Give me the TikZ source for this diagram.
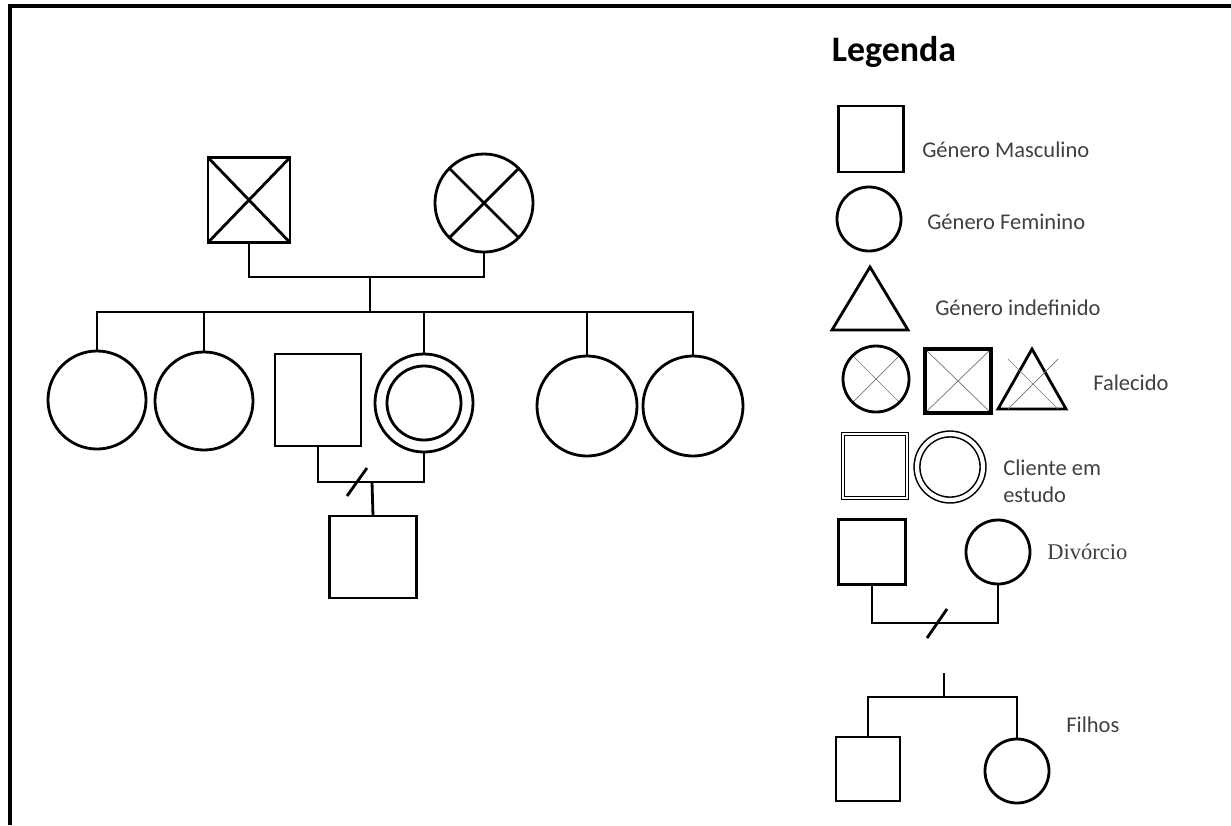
\documentclass[tikz,border=0pt]{standalone}
\usepackage{fontspec}
\setmainfont{Carlito}
\newfontfamily\divfont{Liberation Serif}
\usetikzlibrary{positioning}

\tikzset{
  line/.style={line width=2pt},
  male/.style={draw, line width=2pt, rectangle, inner sep=0pt, outer sep=0pt},
  female/.style={draw, line width=2pt, circle, inner sep=0pt, outer sep=0pt},
  dead/.style={path picture={
    \draw[line width=2pt] (path picture bounding box.north west) -- (path picture bounding box.south east)
      (path picture bounding box.north east) -- (path picture bounding box.south west);}},
  deadthin/.style={path picture={
    \draw[line width=0.5pt, black!55] (path picture bounding box.north west) -- (path picture bounding box.south east)
      (path picture bounding box.north east) -- (path picture bounding box.south west);}},
  client/.style={path picture={
    \draw[line width=2pt] (path picture bounding box.center) circle (0.925cm);}},
  legtext/.style={anchor=west, inner sep=0pt, font=\fontsize{16}{19}\selectfont, text=black!75},
}

\begin{document}
\begin{tikzpicture}[x=0.025cm, y=-0.025cm]
  \useasboundingbox (0,0) rectangle (1231,825);

  % frame
  \draw[line width=2.4pt] (10,825) -- (10,6) -- (1231,6);

  % grandparents
  \node[male, dead, minimum width=2.05cm, minimum height=2.125cm] (gpa) at (249,200) {};
  \node[female, dead, minimum size=2.45cm] (gma) at (484,203) {};
  \coordinate (pm) at (370,277);
  \coordinate (sib) at (370,312);
  \draw[line] (gpa.south) |- (pm) -| (gma.south);
  \draw[line] (pm) -- (sib);

  % siblings
  \node[female, minimum size=2.45cm] (d1) at (97,400) {};
  \node[female, minimum size=2.45cm] (d2) at (204,401) {};
  \node[male, minimum width=2.15cm, minimum height=2.3cm] (hus) at (318,400) {};
  \node[female, client, minimum size=2.45cm] (cli) at (424,403) {};
  \node[female, minimum size=2.5cm] (d5) at (587,406) {};
  \node[female, minimum size=2.5cm] (d6) at (693,406) {};
  \foreach \n in {d1,d2,cli,d5,d6}
    \draw[line] (\n.north) |- (sib);

  % divorced couple and son
  \coordinate (mar) at (372,482);
  \node[male, minimum width=2.175cm, minimum height=2.05cm] (son) at (373,557) {};
  \draw[line] (hus.south) |- (mar) -| (cli.south);
  \draw[line] (mar) -- (son.north);
  \draw[line] ([shift={(-25,14)}]mar) -- ([shift={(-5,-14)}]mar);

  % legend
  \node[font=\fontsize{25.5}{30}\selectfont\bfseries] (title) at (894,52) {Legenda};

  \node[male, minimum width=1.625cm, minimum height=1.65cm] (lm) at (871,139) {};
  \node[legtext] (tm) at (922,150) {Género Masculino};

  \node[female, minimum size=1.6cm] (lf) at (869,219) {};
  \node[legtext] (tf) at (927,222) {Género Feminino};

  \draw[line, line join=miter] (870,267) -- (908,330) -- (832,330) -- cycle;
  \node[legtext] (tu) at (935,308) {Género indefinido};

  \node[female, deadthin, minimum size=1.65cm] (lfd) at (876,379) {};
  \node[male, deadthin, line width=2.4pt, minimum width=1.65cm, minimum height=1.6cm] (lmd) at (958,381) {};
  \draw[line, line join=miter] (1032,349) -- (1066,409) -- (998,409) -- cycle;
  \draw[line width=0.5pt, black!55] (1008,359) -- (1058,409) (1058,359) -- (1008,409);
  \node[legtext] (td) at (1093,383) {Falecido};

  \node[male, line width=1.1pt, double, double distance=1.2pt, minimum size=1.6cm] (lmc) at (875,466) {};
  \node[female, line width=1.1pt, double, double distance=3pt, minimum size=1.65cm] (lfc) at (950,467) {};
  \node[legtext, align=left] (tc) at (1003,481) {Cliente em\\estudo};

  \node[male, minimum width=1.675cm, minimum height=1.625cm] (ldm) at (872,552) {};
  \node[female, minimum size=1.6cm] (ldf) at (998,552) {};
  \coordinate (ldv) at (935,623);
  \draw[line] (ldm.south) |- (ldv) -| (ldf.south);
  \draw[line] ([shift={(-8,15)}]ldv) -- ([shift={(12,-14)}]ldv);
  \node[anchor=west, inner sep=0pt, font=\divfont\fontsize{16}{19}\selectfont, text=black!75] (tdv) at (1047,552) {Divórcio};

  \coordinate (ltop) at (944,673);
  \coordinate (lfc2) at (944,697);
  \node[male, minimum size=1.6cm] (lsm) at (868,769) {};
  \node[female, minimum size=1.6cm] (lsf) at (1017,771) {};
  \draw[line] (ltop) -- (lfc2);
  \draw[line] (lsm.north) |- (lfc2) -| (lsf.north);
  \node[legtext] (tfi) at (1066,725) {Filhos};
\end{tikzpicture}
\end{document}
